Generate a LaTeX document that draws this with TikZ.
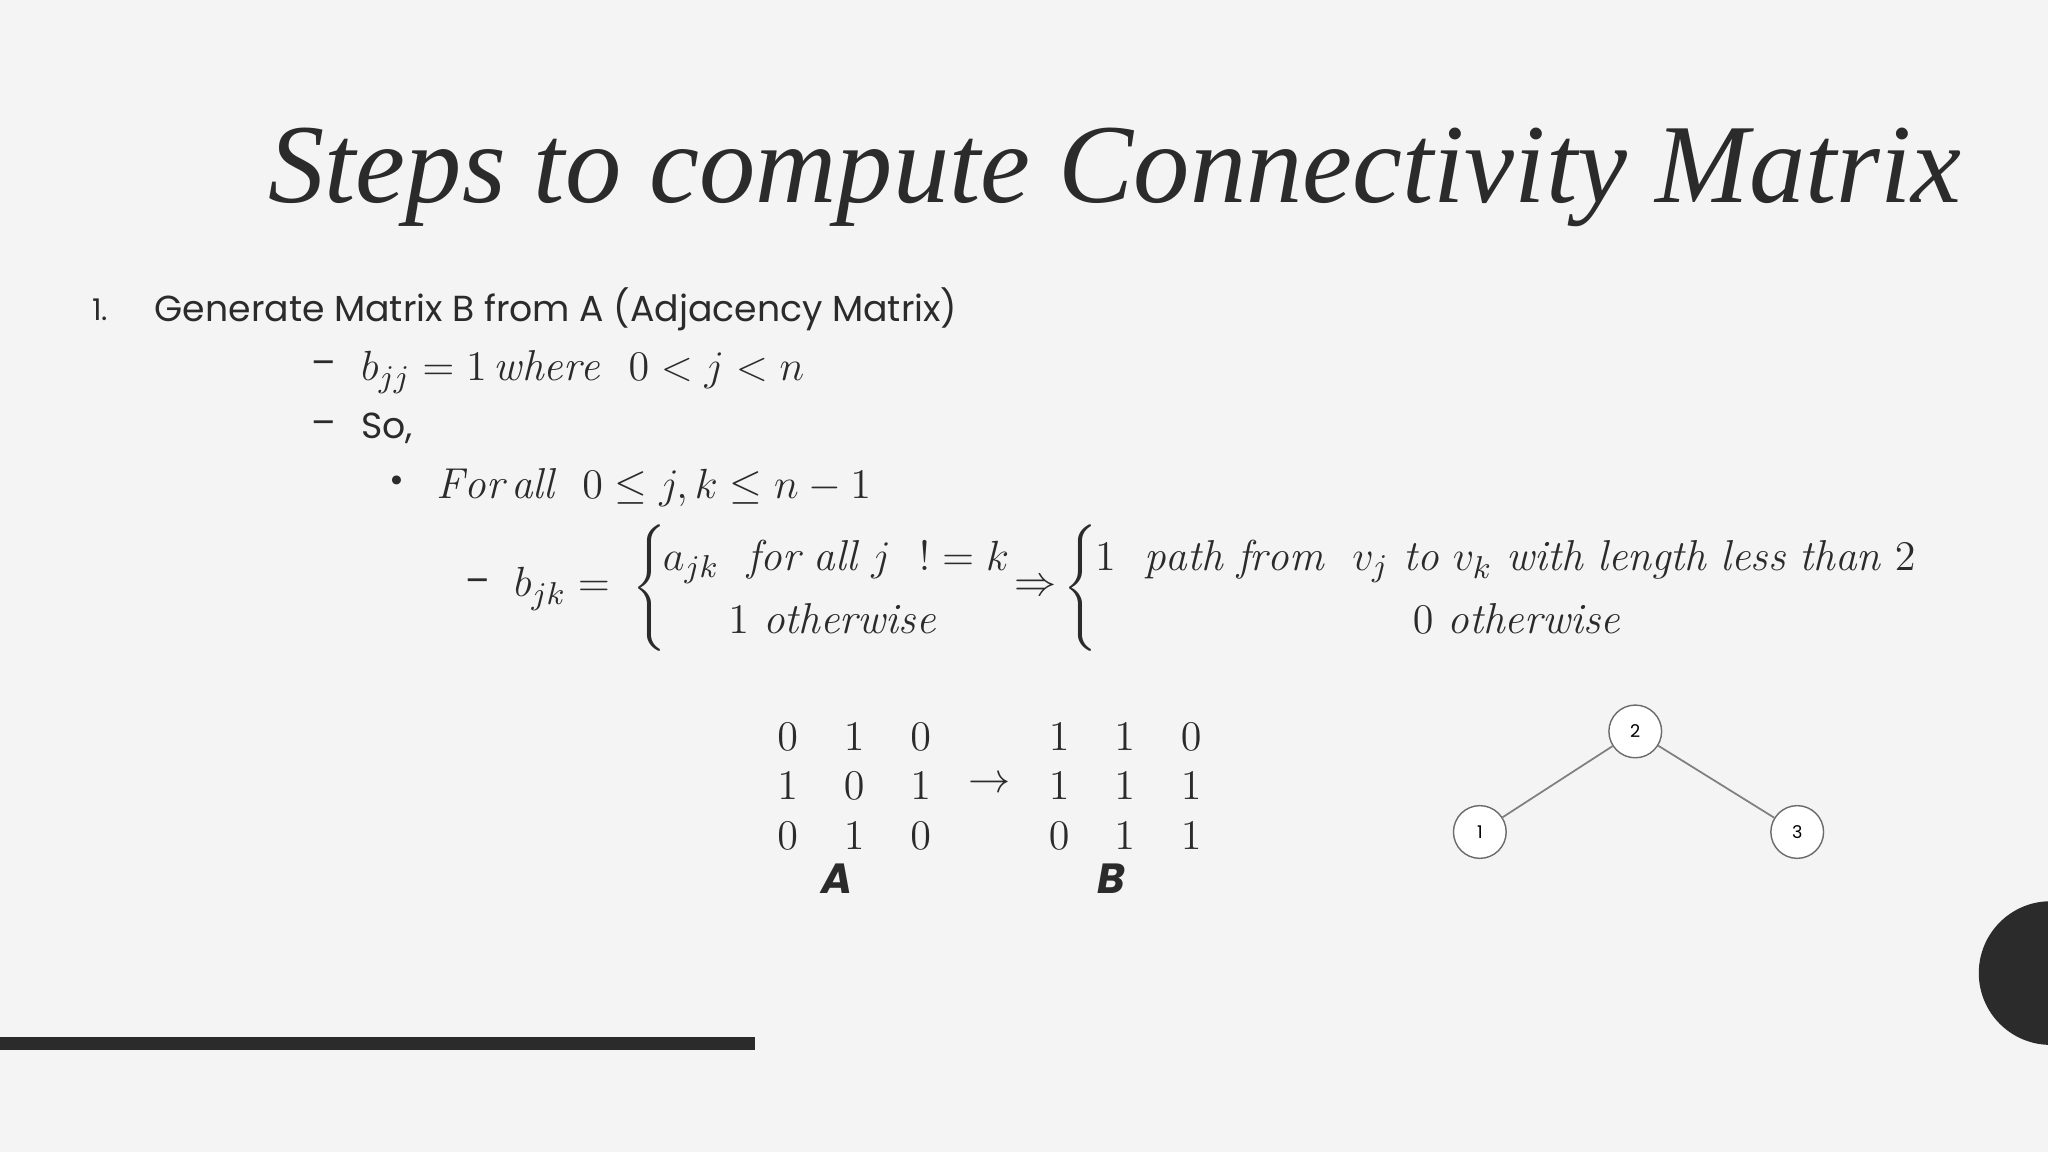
\documentclass[tikz,border=0pt]{standalone}
\usepackage{amsmath}
\usepackage{fontspec}
\setsansfont{Poppins}
\newfontfamily\titlefont{Liberation Serif}
\definecolor{bg}{HTML}{F4F4F4}
\definecolor{ink}{HTML}{2B2B2B}
\begin{document}
\begin{tikzpicture}[x=0.013061cm,y=-0.013061cm,
  body/.style={anchor=west,inner sep=0pt,text=ink,font=\sffamily\fontsize{10.3}{12}\selectfont},
  mth/.style={inner sep=0pt,text=ink,font=\fontsize{12.3}{14}\selectfont},
  vtx/.style={circle,draw=ink!70,fill=white,minimum size=15pt,inner sep=0pt,font=\sffamily\fontsize{5}{6}\selectfont},
  edge/.style={draw=ink!60,line width=0.5pt}]
\fill[bg] (0,0) rectangle (1568,882);
\useasboundingbox (0,0) rectangle (1568,882);
\node[anchor=base west,inner sep=0pt,text=ink,font=\titlefont\itshape\fontsize{32}{36}\selectfont] (title) at (205,155) {Steps to compute Connectivity Matrix};
\node[body] (n1) at (70,237) {\fontsize{8.5}{10}\selectfont 1.};
\node[body] (l1) at (118,237) {Generate Matrix B from A (Adjacency Matrix)};
\node[body] (d1) at (238,282) {–};
\node[mth,anchor=west] (l2) at (276,285) {$b_{jj}=1\,\mathit{where}\ \ 0<j<n$};
\node[body] (d2) at (238,328) {–};
\node[body] (l3) at (276,328) {So,};
\node[body] (b1) at (298,371) {\textbullet};
\node[mth,anchor=west] (l4) at (334,373) {$\mathit{For\,all}\ \ 0\le j,k\le n-1$};
\node[body] (d3) at (356,449) {–};
\node[mth,anchor=west] (bjk) at (393,451) {$b_{jk}=$};
\node[mth] (br1) at (499,450) {$\left\{\rule{0pt}{0.74cm}\right.$};
\node[mth,anchor=west] (c11) at (507,430) {$a_{jk}\ \ \mathit{for\ all}\ j\ \ !=k$};
\node[mth] (c12) at (637,474) {$1\ \mathit{otherwise}$};
\node[mth] (imp) at (793,450) {$\Rightarrow$};
\node[mth] (br2) at (829,450) {$\left\{\rule{0pt}{0.74cm}\right.$};
\node[mth,anchor=west] (c21) at (838,430) {$1\ \ \mathit{path\ from}\ \ v_j\ \mathit{to}\ v_k\ \mathit{with\ length\ less\ than}\ 2$};
\node[mth] (c22) at (1161,474) {$0\ \mathit{otherwise}$};
\foreach \x/\a/\b/\c in {603/0/1/0,654/1/0/1,705/0/1/0,811/1/1/0,861/1/1/1,912/0/1/1}{
  \node[mth] at (\x,564) {$\a$};
  \node[mth] at (\x,602) {$\b$};
  \node[mth] at (\x,640) {$\c$};
}
\node[mth] (arr) at (758,601) {$\rightarrow$};
\node[inner sep=0pt,text=ink,font=\sffamily\bfseries\itshape\fontsize{12}{14}\selectfont] (la) at (641,673) {A};
\node[inner sep=0pt,text=ink,font=\sffamily\bfseries\itshape\fontsize{12}{14}\selectfont] (lb) at (851,673) {B};
\node[vtx] (v2) at (1252,560) {2};
\node[vtx] (v1) at (1133,637) {1};
\node[vtx] (v3) at (1376,637) {3};
\draw[edge] (v2) -- (v1);
\draw[edge] (v2) -- (v3);
\fill[ink] (1570,745) circle (55);
\draw[ink,line width=3.5pt] (0,799) -- (578,799);
\end{tikzpicture}
\end{document}
